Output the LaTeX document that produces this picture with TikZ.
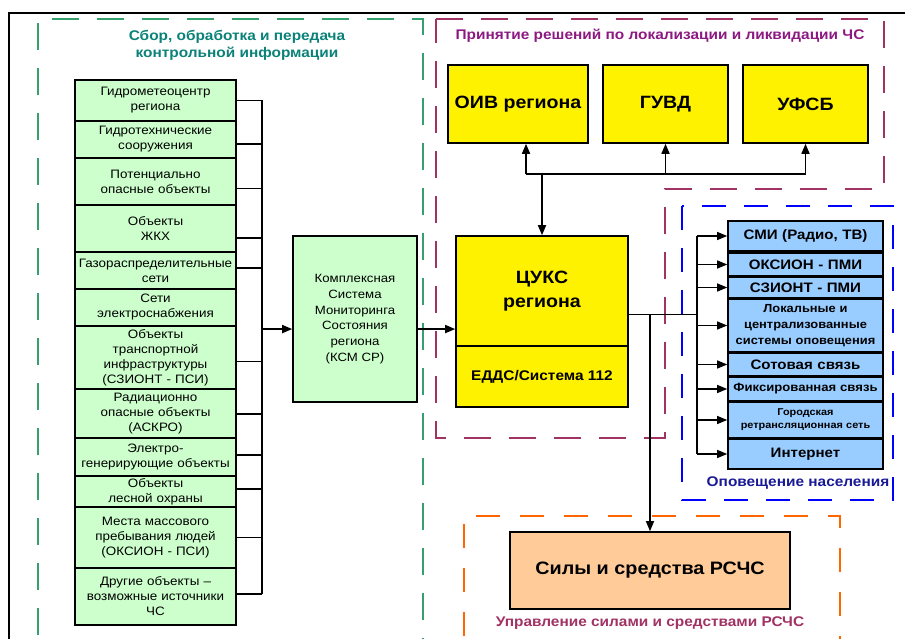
\documentclass[tikz,border=0pt]{standalone}
\usepackage{fontspec}
\setmainfont{Liberation Sans}[FakeStretch=1.1]
\usetikzlibrary{arrows.meta,calc}
\definecolor{gfill}{RGB}{204,255,204}
\definecolor{bfill}{RGB}{153,204,255}
\definecolor{pfill}{RGB}{255,204,153}
\definecolor{gdash}{RGB}{51,160,110}
\definecolor{gtitle}{RGB}{10,130,120}
\definecolor{mdash}{RGB}{160,50,100}
\definecolor{mtitle}{RGB}{140,25,130}
\definecolor{bdash}{RGB}{0,0,255}
\definecolor{btitle}{RGB}{25,25,150}
\definecolor{odash}{RGB}{255,102,0}
\definecolor{otitle}{RGB}{160,50,100}
\tikzset{
  lbox/.style={draw=black,line width=1.6pt,fill=gfill,inner sep=0pt,align=center,
    text width=161pt,font=\fontsize{12.2}{15}\selectfont},
  ybox/.style={draw=black,line width=1.6pt,fill=yellow,inner sep=0pt,align=center},
  bbox/.style={draw=black,line width=1.6pt,fill=bfill,inner sep=0pt,align=center,
    minimum width=155pt,text width=155pt},
  frm/.style={dash pattern=on 27pt off 18pt,line width=1.8pt},
  ttl/.style={font=\bfseries\fontsize{14}{17}\selectfont,align=center},
  arr/.style={-{Triangle[length=10pt,width=8pt]}},
  thk/.style={line width=1.6pt},
  thn/.style={line width=1.2pt},
}
\begin{document}
\begin{tikzpicture}[x=1pt,y=-1pt]
\useasboundingbox (0,0) rectangle (905,639);
\clip (0,0) rectangle (905,639);
% outer frame
\draw[line width=2.4pt] (9,660) -- (9,13) -- (920,13);
% dashed areas
\draw[frm,gdash] (38,680) -- (38,19) -- (423,19) -- (423,680);
\draw[frm,mdash] (436,19) -- (884,19) -- (884,189) -- (665,189) -- (665,438) -- (436,438) -- cycle;
\draw[frm,bdash,dash pattern=on 24pt off 18pt] (682,206) rectangle (893,500);
\draw[frm,odash,dash pattern=on 24pt off 20pt] (464,680) -- (464,516) -- (840,516) -- (840,680);
% titles
\node[ttl,text=gtitle] (tg) at (237,45) {Сбор, обработка и передача\\контрольной информации};
\node[ttl,text=mtitle] (tm) at (660,36) {Принятие решений по локализации и ликвидации ЧС};
\node[ttl,text=btitle] (tb) at (798,483) {Оповещение населения};
\node[ttl,text=otitle] (to) at (650,623) {Управление силами и средствами РСЧС};
% left list
\node[lbox,minimum height=41pt] (l1) at (155.5,100.5) {Гидрометеоцентр\\региона};
\node[lbox,minimum height=37pt] (l2) at (155.5,139.5) {Гидротехнические\\сооружения};
\node[lbox,minimum height=47pt] (l3) at (155.5,181.5) {Потенциально\\опасные объекты};
\node[lbox,minimum height=47pt] (l4) at (155.5,228.5) {Объекты\\ЖКХ};
\node[lbox,minimum height=37pt] (l5) at (155.5,270.5) {Газораспределительные\\сети};
\node[lbox,minimum height=37pt] (l6) at (155.5,307.5) {Сети\\электроснабжения};
\node[lbox,minimum height=63pt] (l7) at (155.5,357.5) {Объекты\\транспортной\\инфраструктуры\\(СЗИОНТ - ПСИ)};
\node[lbox,minimum height=49pt] (l8) at (155.5,413.5) {Радиационно\\опасные объекты\\(АСКРО)};
\node[lbox,minimum height=38pt] (l9) at (155.5,457) {Электро-\\генерирующие объекты};
\node[lbox,minimum height=31pt] (l10) at (155.5,491.5) {Объекты\\лесной охраны};
\node[lbox,minimum height=61pt] (l11) at (155.5,537.5) {Места массового\\пребывания людей\\(ОКСИОН - ПСИ)};
\node[lbox,minimum height=57pt] (l12) at (155.5,596.5) {Другие объекты –\\возможные источники\\ЧС};
\coordinate (bx) at (262,0);
% KSM
\node[draw=black,line width=1.6pt,fill=gfill,minimum width=124pt,minimum height=166pt,inner sep=0pt,align=center,font=\fontsize{12}{15.7}\selectfont] (ksm) at (355,319) {Комплексная\\Система\\Мониторинга\\Состояния\\региона\\(КСМ СР)};
% CUKS
\node[ybox,minimum width=172pt,minimum height=110pt,font=\bfseries\fontsize{17.8}{24}\selectfont] (cuks) at (542,291) {ЦУКС\\региона};
\node[ybox,minimum width=172pt,minimum height=61pt,font=\bfseries\fontsize{14}{16}\selectfont] (edds) at (542,376.5) {ЕДДС/Система 112};
% top boxes
\node[ybox,minimum width=140pt,minimum height=78pt,font=\bfseries\fontsize{17.8}{22}\selectfont] (oiv) at (518,104) {ОИВ региона};
\node[ybox,minimum width=125pt,minimum height=78pt,font=\bfseries\fontsize{17.8}{22}\selectfont] (guvd) at (665.5,104) {ГУВД};
\node[ybox,minimum width=125pt,minimum height=78pt,font=\bfseries\fontsize{17.8}{22}\selectfont] (ufsb) at (805.5,104) {УФСБ};
% blue list
\node[bbox,minimum height=30pt,font=\bfseries\fontsize{13.7}{16}\selectfont] (smi) at (805.5,236) {СМИ (Радио, ТВ)};
\node[bbox,minimum height=23pt,font=\bfseries\fontsize{13.7}{16}\selectfont] (oks) at (805.5,264.5) {ОКСИОН - ПМИ};
\node[bbox,minimum height=21pt,font=\bfseries\fontsize{13.7}{16}\selectfont] (szi) at (805.5,287.5) {СЗИОНТ - ПМИ};
\node[bbox,minimum height=53pt,font=\bfseries\fontsize{11.7}{16}\selectfont] (lok) at (805.5,325.5) {Локальные и\\централизованные\\системы оповещения};
\node[bbox,minimum height=23pt,font=\bfseries\fontsize{13.7}{16}\selectfont] (sot) at (805.5,364.5) {Сотовая связь};
\node[bbox,minimum height=24pt,font=\bfseries\fontsize{11.9}{14}\selectfont] (fix) at (805.5,389) {Фиксированная связь};
\node[bbox,minimum height=36pt,font=\bfseries\fontsize{9.9}{13}\selectfont] (gor) at (805.5,420) {Городская\\ретрансляционная сеть};
\node[bbox,minimum height=30pt,font=\bfseries\fontsize{13.7}{16}\selectfont] (inet) at (805.5,454) {Интернет};
% forces
\node[draw=black,line width=1.6pt,fill=pfill,minimum width=280pt,minimum height=77pt,inner sep=0pt,font=\bfseries\fontsize{18}{22}\selectfont] (sily) at (650,570.5) {Силы и средства РСЧС};
% left connectors
\foreach \n/\f in {l1/0.5,l2/0.62,l3/0.64,l4/0.70,l5/0.43,l7/0.56,l8/0.51,l9/0.45,l10/0.42,l11/0.5,l12/0.46}{
  \coordinate (p\n) at ($(\n.north east)!\f!(\n.south east)$);
  \draw[thk] (p\n) -- (p\n -| bx);
}
\draw[thk] (pl1 -| bx) -- (pl12 -| bx);
\coordinate (kin) at ($(ksm.north west)!0.56!(ksm.south west)$);
\draw[thk,arr] (kin -| bx) -- (kin);
\draw[thk,arr] (kin -| ksm.east) -- (kin -| cuks.west);
% top connectors
\coordinate (tj) at (542,174);
\coordinate (j1) at (526,174);
\draw[thk] (j1) -- (tj -| ufsb.south);
\draw[thk,arr] (j1) -- (j1 |- oiv.south);
\draw[thk,arr] (tj -| guvd.south) -- (guvd.south);
\draw[thk,arr] (tj -| ufsb.south) -- (ufsb.south);
\draw[thk,arr] (tj) -- (cuks.north);
% right connectors
\coordinate (cr) at ($(cuks.north east)!0.71!(cuks.south east)$);
\coordinate (rb) at (697,0);
\draw[thn] (cr) -- (cr -| rb);
\draw[thn] (smi.west -| rb) -- (inet.west -| rb);
\foreach \n in {smi,oks,szi,lok,sot,fix,gor,inet}
  \draw[thn,arr] (\n.west -| rb) -- (\n.west);
\draw[thn,arr] (cr -| sily.north) -- (sily.north);
\end{tikzpicture}
\end{document}
